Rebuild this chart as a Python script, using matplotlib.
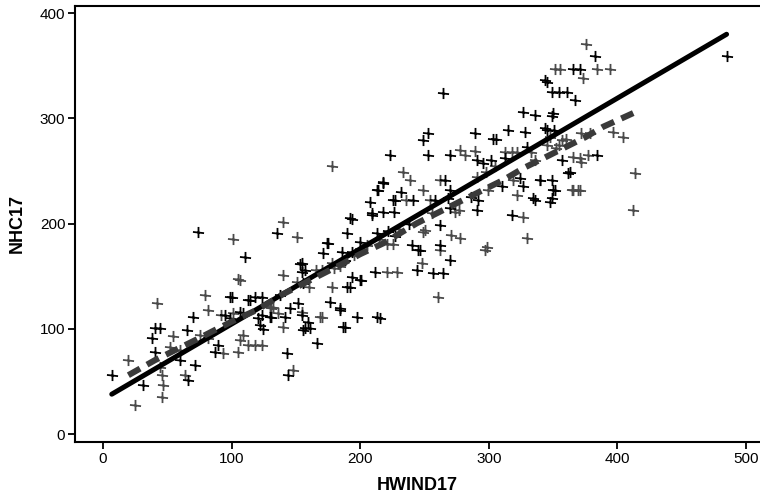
import matplotlib
matplotlib.use('Agg')
import matplotlib.pyplot as plt
import numpy as np
from matplotlib.path import Path

plt.rcParams['font.family'] = ['Liberation Sans', 'DejaVu Sans']

# observations, black group
black_x = [6.8, 31.3, 37.8, 40.4, 44.3, 40.4, 60, 66.3, 71.5, 70.2, 65, 87, 89.7, 98.8, 98.8, 95,
           106.5, 114, 118.2, 120.8, 124.6, 130, 142.8, 144, 153.2, 154.5, 155.8, 155.8, 161, 166.2,
           176.5, 184.3, 186.9, 197.3, 201, 212.8, 189.5, 74.1, 135, 175.2, 189.5, 192, 207.6, 209,
           212.8, 110.4, 171.3, 185.6, 193.4, 157, 193.4, 192, 200, 100, 113, 123.4, 137.6, 145.4,
           152, 184.3, 109, 123.4, 131, 141.5, 154.5, 159.6, 157, 188.2, 122, 218, 214, 227, 209,
           193.4, 212.8, 227, 174, 154.4, 211.5, 243.9, 256.8, 264.6, 269.8, 245, 215.4, 240,
           246.5, 262, 262, 270, 290.6, 317.8, 218, 226, 218, 266, 270, 324, 326.8, 334.6, 349,
           349, 351.5, 363, 268.5, 258, 225.7, 241.3, 264.6, 345, 349, 355, 360.6, 367, 365.7,
           371, 382.6, 343.7, 349, 345, 351, 326.8, 336, 350, 343.7, 315, 328, 289.3, 303.5, 306,
           253, 249, 253, 223.2, 270, 290.6, 295.7, 302, 329.5, 356.7, 384, 362, 340, 347.6, 350,
           336, 485, 188, 200, 222, 232, 238, 286, 292, 310, 313]
black_y = [56, 46.6, 91, 100.5, 100.5, 78.2, 70.3, 51.3, 65.6, 111.5, 98.9, 78.2, 84.6, 130.5, 110, 113,
           116.3, 127.4, 130.5, 110, 99.5, 111.5, 76.7, 56, 161.6, 154.3, 143.3, 98.9, 100.5, 86.2,
           126, 118, 102, 111.5, 146.4, 111.5, 140, 192.3, 190.8, 181.3, 190.8, 205, 220.8, 208.2,
           232, 168.5, 171.8, 173.4, 173.4, 156, 149.5, 140, 146.4, 130.5, 127.4, 130.5, 132, 119.5,
           124.2, 119.5, 114.7, 113, 111.5, 111.5, 113, 106.8, 100.5, 102, 104, 238.3, 232, 222.4,
           209.7, 204, 190.8, 188, 182, 162.2, 154.2, 155.9, 152.8, 152.8, 165.4, 175, 110, 179.7,
           175, 179.7, 198.7, 214.5, 213, 208.2, 211.3, 211.3, 239.8, 241.4, 232, 243, 235.4, 224,
           224, 241.4, 232, 249.3, 224, 222.4, 222.4, 222.4, 324.5, 335, 325.4, 325.4, 325.4, 317.5,
           346.7, 346.7, 359.3, 336.5, 302.3, 289, 289, 306.4, 303, 304.8, 290.6, 289, 287.4, 285.8,
           280, 280, 285.8, 279.5, 265.2, 265.2, 265.2, 260.5, 257.3, 260.5, 273, 260.5, 265.2,
           247.8, 241.4, 220.8, 232, 222.4, 359.3, 165, 183, 193, 230, 200, 225, 222, 236, 262]

# observations, grey group
grey_x = [19.7, 25, 41.7, 44.3, 45.6, 46.9, 45.6, 54.7, 52.1, 63.8, 75.4, 82, 93.5, 105.2, 106.5,
          113, 118, 123.4, 79.3, 82, 92, 105.2, 131, 136.3, 140.2, 148, 154.5, 170, 101.3, 140.2,
          150.6, 177.8, 220.6, 225.7, 106.5, 166, 170, 177.8, 150.6, 130, 132.4, 101.3, 168.7,
          140.2, 109, 220.6, 228.4, 247.8, 260.7, 262, 297, 233.5, 238.7, 262, 249, 290.6, 298,
          299.6, 319, 340, 365.7, 371, 236, 254, 277, 274, 326.8, 250.4, 249, 271, 277.6, 298.4,
          329.5, 277.6, 281.5, 289.3, 312.6, 317.8, 321.6, 336, 356.7, 365.7, 371, 377.4, 372,
          378.7, 397, 404.6, 413.7, 412.4, 364.4, 369.6, 351.5, 355.4, 384, 394, 373.5, 376,
          347.6, 355, 345, 372, 321.6, 178, 184, 195, 200, 205, 215, 230, 60, 160, 180, 256, 305,
          333, 352, 360]
grey_y = [70.3, 27.6, 125, 64, 56, 46.6, 35.5, 93.2, 83, 56, 94, 91, 76.7, 78.2, 89.4,
          84.6, 84.6, 84.6, 132, 118, 113, 147, 119.5, 114.7, 151, 61, 116.3, 111.5, 185, 202,
          187.5, 254.8, 181, 181, 146.4, 156, 156, 140, 144.8, 120.7, 120.7, 114.7, 111.5,
          102, 94, 154.2, 154.2, 162.2, 130.5, 175, 175, 249.3, 241.4, 241.4, 232, 244.6, 249.3,
          232, 241.4, 241.4, 232, 232, 222.4, 222.4, 213, 211, 206.6, 194, 192.3, 189, 186, 178,
          186, 270, 265.2, 269.3, 268.3, 268.3, 268.3, 260.5, 279.5, 263.6, 262, 265.2, 285.8,
          285.8, 287.4, 282.6, 247.8, 213, 232, 232, 346.7, 346.7, 346.7, 346.7, 338, 370.7,
          282.6, 274.7, 274.7, 258.8, 227.2, 163, 160, 170, 176, 180, 185, 195, 80, 140, 158, 210,
          255, 268, 272, 280]

# linear fit: intercept, slope
fit_coef = [33.1, 0.715]

# smoothed trend
smooth_x = [19.7, 40.4, 56, 72.9, 87, 105.2, 119.5, 140, 168.7, 184.3, 200, 218, 231, 244, 262,
            280, 295.7, 311.3, 326.8, 342.4, 358, 375, 389, 412.4]
smooth_y = [56, 70.3, 79.8, 90, 98.9, 110, 117.9, 133, 151, 160.6, 171, 181.3, 190.8, 200.3,
            211.3, 222.4, 232, 241.4, 252.6, 262, 271.6, 282, 292, 305]

plus = Path([(0, 1), (0, -1), (-1, 0.1), (1, -0.12)],
            [Path.MOVETO, Path.LINETO, Path.MOVETO, Path.LINETO])

fig = plt.figure(figsize=(7.6, 4.97), dpi=100)
ax = fig.add_axes([0.0987, 0.111, 0.9013, 0.8775])

ax.plot(grey_x, grey_y, ls='none', marker=plus, ms=8, mew=1.3, color='#4a4a4a')
ax.plot(black_x, black_y, ls='none', marker=plus, ms=8, mew=1.3, color='black')

allx = np.array(black_x + grey_x)
xx = np.array([allx.min(), allx.max()])
ax.plot(xx, fit_coef[0] + fit_coef[1] * xx, color='black', lw=3.6, solid_capstyle='round')
ax.plot(smooth_x, smooth_y, color='#3a3a3a', lw=4.4, dashes=(2.2, 1.3))

ax.set_xlim(-21.8, 511)
ax.set_ylim(-7.3, 407)
ax.set_xticks([0, 100, 200, 300, 400, 500])
ax.set_yticks([0, 100, 200, 300, 400])
ax.tick_params(labelsize=11, length=5, width=1.3, pad=2)
for s in ['left', 'bottom', 'top']:
    ax.spines[s].set_linewidth(1.5)
ax.spines['right'].set_visible(False)
ax.set_xlabel('HWIND17', fontsize=13, fontweight='bold', labelpad=8)
ax.set_ylabel('NHC17', fontsize=13, fontweight='bold', labelpad=10)

plt.savefig('out.png', dpi=100)
